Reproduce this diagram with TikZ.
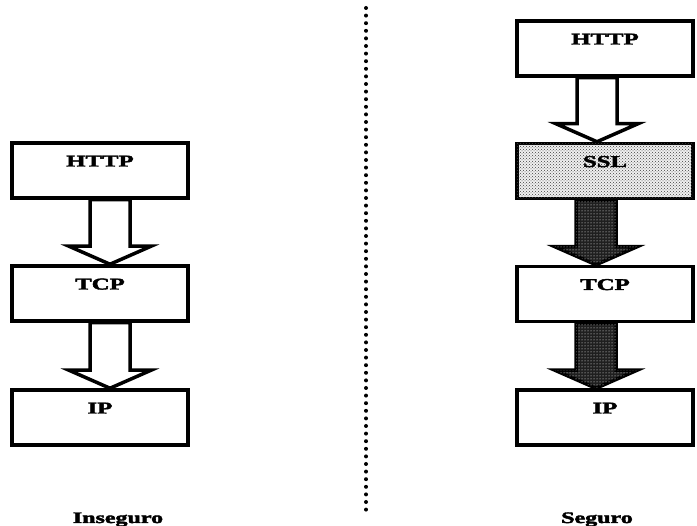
\documentclass[tikz,border=0pt]{standalone}
\usepackage{fontspec}
\setmainfont{Liberation Serif}
\newfontfamily\heavyfont[BoldFeatures={FakeBold=2.2}]{Liberation Serif}
\usetikzlibrary{calc,patterns}
\pgfdeclarelayer{background}
\pgfsetlayers{background,main}

\tikzset{
  layer/.style={draw, line width=3.5pt, fill=white, line join=miter,
    minimum width=176pt, minimum height=55pt, inner sep=0pt,
    text height=11pt, text depth=19pt,
    font=\fontsize{16.5}{18}\heavyfont\bfseries},
  ssllayer/.style={layer, fill=gray!12,
    postaction={pattern=crosshatch dots, pattern color=black!75}},
  arrowbody/.style={draw, line width=3.5pt, line join=miter, fill=white},
  darkarrow/.style={arrowbody, fill=black!88,
    postaction={pattern=dots, pattern color=white}},
  caption/.style={anchor=base, inner sep=0pt,
    font=\fontsize{16}{18}\heavyfont\bfseries},
  dotline/.style={line width=4pt, line cap=round, dash pattern=on 0pt off 7.6pt}
}

% #1 from node, #2 to node, #3 x offset (pt), #4 style
\newcommand\layerarrow[4]{%
  \draw[#4] let \p1=($(#1.south)+(#3,0)$), \p2=(#2.north) in
    (\x1-20pt,\y1) -- (\x1-20pt,\y2+18pt) -- (\x1-41pt,\y2+18pt) --
    (\x1,\y2) -- (\x1+41pt,\y2+18pt) -- (\x1+20pt,\y2+18pt) --
    (\x1+20pt,\y1) -- cycle;
}
\newcommand\wide[1]{\scalebox{1.5}[1]{#1}}

\begin{document}
\begin{tikzpicture}[x=1pt,y=-1pt]
  \useasboundingbox (0,0) rectangle (697,526);

  % layers
  \node[layer] (HTTPa) at (100,170.5) {\wide{HTTP}};
  \node[layer] (TCPa)  at (100,293.5) {\wide{TCP}};
  \node[layer] (IPa)   at (100,417.5) {\wide{IP}};
  \node[layer] (HTTPb) at (605,48.5)  {\wide{HTTP}};
  \node[ssllayer] (SSLb) at (605,171) {\wide{SSL}};
  \node[layer] (TCPb)  at (605,294)   {\wide{TCP}};
  \node[layer] (IPb)   at (605,417.5) {\wide{IP}};

  % arrows behind the layers
  \begin{pgfonlayer}{background}
    \layerarrow{HTTPa}{TCPa}{10}{arrowbody}
    \layerarrow{TCPa}{IPa}{10}{arrowbody}
    \layerarrow{HTTPb}{SSLb}{-8}{arrowbody}
    \layerarrow{SSLb}{TCPb}{-9}{darkarrow}
    \layerarrow{TCPb}{IPb}{-9}{darkarrow}
  \end{pgfonlayer}

  % separator
  \coordinate (d1) at (366,8);
  \coordinate (d2) at (366,513);
  \draw[dotline] (d1) -- (d2);

  % captions
  \node[caption] (ins) at (118,523) {\wide{Inseguro}};
  \node[caption] (seg) at (597,523) {\wide{Seguro}};
\end{tikzpicture}
\end{document}
